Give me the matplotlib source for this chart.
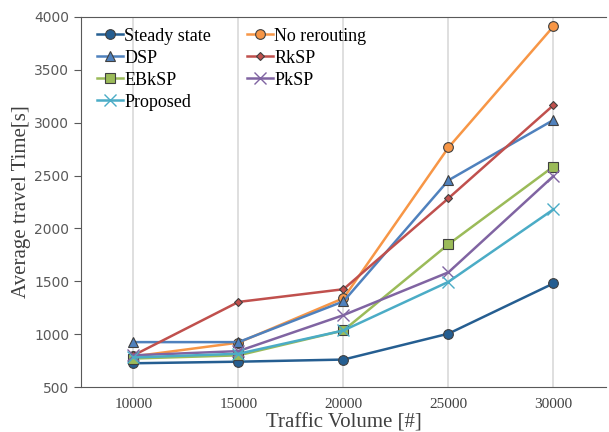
import matplotlib
matplotlib.use("Agg")
import matplotlib.pyplot as plt
import numpy as np

volumes = ["10000", "15000", "20000", "25000", "30000"]

steady_state = [725, 740, 760, 1005, 1480]
no_rerouting = [790, 920, 1340, 2765, 3910]
dsp = [925, 925, 1310, 2455, 3025]
rksp = [800, 1305, 1425, 2285, 3165]
ebksp = [770, 800, 1035, 1850, 2585]
pksp = [800, 840, 1180, 1585, 2495]
proposed = [780, 815, 1035, 1495, 2180]

series = [
    ("Steady state", steady_state, "#255E91", "o", 7),
    ("No rerouting", no_rerouting, "#F79646", "o", 7),
    ("DSP", dsp, "#4F81BD", "^", 7),
    ("RkSP", rksp, "#C0504D", "D", 4.5),
    ("EBkSP", ebksp, "#9BBB59", "s", 7),
    ("PkSP", pksp, "#8064A2", "x", 8),
    ("Proposed", proposed, "#4BACC6", "x", 8),
]

fig = plt.figure(figsize=(6.09, 4.32), dpi=100)
ax = fig.add_axes([0.133, 0.104, 0.862, 0.857])

x = np.arange(len(volumes))
for xi in x:
    ax.axvline(xi, color="#D9D9D9", lw=1.2, zorder=0)

handles = {}
for name, vals, col, mk, ms in series:
    if mk == "x":
        h, = ax.plot(x, vals, color=col, lw=1.8, marker=mk, ms=ms, mew=1.0,
                     mec=col, label=name, zorder=3)
    else:
        h, = ax.plot(x, vals, color=col, lw=1.8, marker=mk, ms=ms, mfc=col,
                     mec="#404040", mew=0.8, label=name, zorder=3)
    handles[name] = h

ax.set_xlim(-0.5, 4.5)
ax.set_ylim(500, 4000)
ax.set_yticks(np.arange(500, 4001, 500))
ax.set_xticks(x)
ax.set_xticklabels(volumes, family="Liberation Serif", fontsize=11, color="#404040")
for lab in ax.get_yticklabels():
    lab.set_family("DejaVu Sans")
    lab.set_fontsize(10)
    lab.set_color("#595959")
ax.tick_params(axis="x", length=0, pad=8)
ax.tick_params(axis="y", length=5, color="#595959")

ax.spines["right"].set_visible(False)
for s in ["left", "top", "bottom"]:
    ax.spines[s].set_color("#595959")

ax.set_xlabel("Traffic Volume [#]", family="Liberation Serif", fontsize=15, color="#404040", labelpad=2)
ax.set_ylabel("Average travel Time[s]", family="Liberation Serif", fontsize=15, color="#404040", labelpad=2)

# row-major order like the original legend
order = ["Steady state", "DSP", "EBkSP", "Proposed", "No rerouting", "RkSP", "PkSP"]
ax.legend([handles[n] for n in order], order, loc="upper left", ncol=2, frameon=False,
          prop={"family": "Liberation Serif", "size": 13},
          handlelength=1.4, handletextpad=0.1, columnspacing=2.0, labelspacing=0.28,
          bbox_to_anchor=(0.0, 1.015))

fig.savefig("out.png", dpi=100)
